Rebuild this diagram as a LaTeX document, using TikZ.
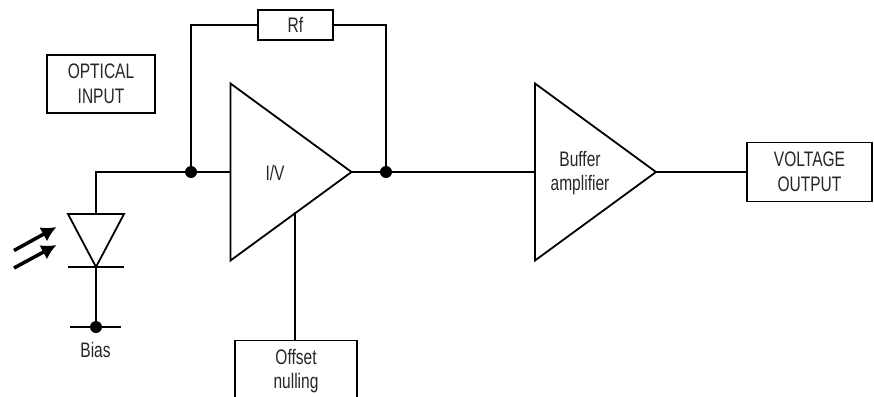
\documentclass[tikz,border=0pt]{standalone}
\usepackage{fontspec}
\setmainfont[FakeStretch=0.74]{Liberation Sans}
\usetikzlibrary{shapes.geometric}
\usetikzlibrary{arrows.meta}
\tikzset{>={Latex[width=16pt,length=15pt]}}
\tikzset{wire/.style={line width=1.8pt}}
\tikzset{labelbox/.style={draw, line width=1.8pt, fill=white, align=center, inner sep=0pt, font=\fontsize{21}{24.5}\selectfont, text=black!85}}
\tikzset{plain/.style={align=center, inner sep=0pt, font=\fontsize{21}{24.5}\selectfont, text=black!85}}
\tikzset{amp/.style={draw, line width=1.8pt, isosceles triangle, isosceles triangle stretches, inner sep=0pt, outer sep=0pt, minimum width=177pt, minimum height=121pt, anchor=lower side}}
\tikzset{junction/.style={circle, fill=black, inner sep=0pt, minimum size=12pt}}

\begin{document}
\begin{tikzpicture}[x=1pt, y=-1pt]

\useasboundingbox (0,0) rectangle (874,396);

% amplifiers
\node[amp] (IV) at (230.5,172) {};
\node[amp] (buffer) at (535,172) {};
\node[plain] (IVtext) at (275,173) {I/V};
\node[plain] (buffertext) at (580,173) {Buffer\\amplifier};

% boxes
\node[labelbox, minimum width=75pt, minimum height=30pt] (Rf) at (295.5,25) {Rf};
\node[labelbox, minimum width=108pt, minimum height=58pt] (optical) at (101,84) {OPTICAL\\INPUT};
\node[labelbox, minimum width=125pt, minimum height=59pt] (voltage) at (809.5,172) {VOLTAGE\\OUTPUT};
\node[labelbox, minimum width=122pt, minimum height=70pt] (offset) at (296,375.5) {};
\node[plain] (offsettext) at (296,371) {Offset\\nulling};

% junctions
\node[junction] (inJ) at (191,172) {};
\node[junction] (outJ) at (386,172) {};
\node[junction] (biasJ) at (96,327) {};
\coordinate (ampbase) at (295,212);
\coordinate (anode) at (96,214);
\coordinate (cathode) at (96,267);

% connectors
\draw[wire] (anode) |- (inJ);
\draw[wire] (inJ) -- (IV.lower side);
\draw[wire] (inJ) |- (Rf.west);
\draw[wire] (outJ) |- (Rf.east);
\draw[wire] (IV.apex) -- (outJ);
\draw[wire] (outJ) -- (buffer.lower side);
\draw[wire] (buffer.apex) -- (voltage.west);
\draw[wire] (ampbase) -- (ampbase |- offset.north);
\draw[wire] (cathode) -- (biasJ);

% diode
\draw[wire, line join=miter] (68,214) -- (124,214) -- (cathode) -- cycle;
\draw[wire] (68,267) -- (124,267);
\draw[wire] (70,327) -- (121,327);
\node[plain] (bias) at (95.5,350) {Bias};

% light
\draw[->, line width=3.5pt] (14,250.5) -- (56.5,227);
\draw[->, line width=3.5pt] (14,268) -- (56.5,245);

\end{tikzpicture}
\end{document}
